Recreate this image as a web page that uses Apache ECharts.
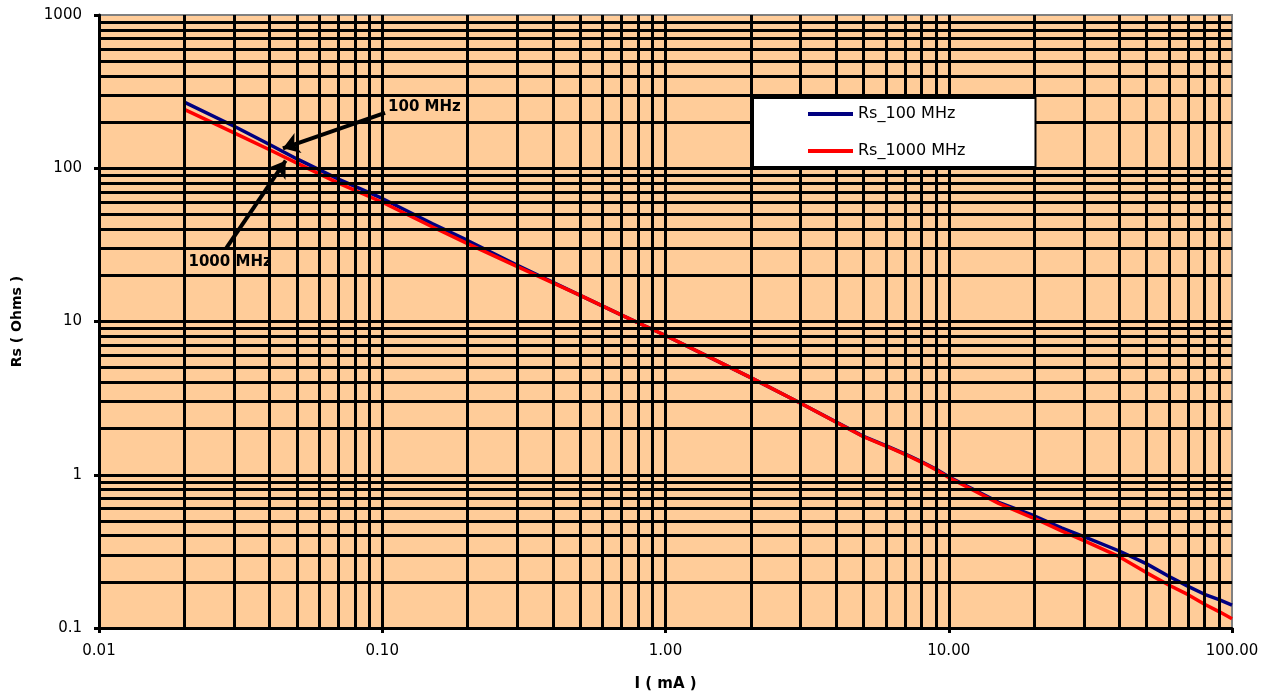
<!DOCTYPE html>
<html>
<head>
<meta charset="utf-8">
<script src="https://cdn.jsdelivr.net/npm/echarts@6/dist/echarts.min.js"></script>
<style>
html,body{margin:0;padding:0;background:#fff;}
#chart{width:1277px;height:697px;}
</style>
</head>
<body>
<div id="chart"></div>
<script>
// Current (mA)
var currents = [0.02, 0.03, 0.04, 0.05, 0.07, 0.1, 0.15, 0.2, 0.3, 0.5, 0.7, 1, 1.5, 2, 3, 5, 6, 7, 8, 9, 10, 15, 20, 25, 30, 40, 50, 60, 70, 80, 90, 100];
// Rs (Ohms) at 100 MHz
var rs100 = [270, 188, 143, 115, 85, 63.5, 43.5, 33.8, 23.3, 14.8, 11.0, 8.1, 5.6, 4.3, 2.93, 1.78, 1.55, 1.37, 1.22, 1.09, 0.97, 0.66, 0.54, 0.45, 0.395, 0.318, 0.262, 0.217, 0.187, 0.166, 0.153, 0.141];
// Rs (Ohms) at 1000 MHz
var rs1000 = [242, 170, 132, 108, 80, 60, 41.5, 32.2, 22.8, 14.8, 11.0, 8.1, 5.6, 4.3, 2.93, 1.77, 1.54, 1.36, 1.21, 1.08, 0.96, 0.65, 0.52, 0.43, 0.372, 0.292, 0.229, 0.19, 0.165, 0.143, 0.128, 0.115];
var seriesNames = ['Rs_100 MHz', 'Rs_1000 MHz'];
var xTickDecades = [0.01, 0.1, 1, 10, 100];
var yTickDecades = [0.1, 1, 10, 100, 1000];
// Annotations (data coordinates): [tailI, tailRs, headI, headRs]
var arrow100 = [0.1023, 230, 0.0446, 135];
var arrow1000 = [0.0281, 30, 0.0456, 112];
var label100 = ['100 MHz', 0.1048, 251];
var label1000 = ['1000 MHz', 0.0207, 24.4];

function minorValues(decades) {
  var out = [];
  for (var i = 0; i < decades.length - 1; i++) {
    for (var m = 1; m <= 9; m++) {
      if (i === 0 && m === 1) continue; // edge drawn by axis
      out.push(+(decades[i] * m).toPrecision(6));
    }
  }
  return out;
}
var xGrid = minorValues(xTickDecades);
var yGrid = minorValues(yTickDecades);

function pairs(xs, ys) { return xs.map(function (x, i) { return [x, ys[i]]; }); }

var gridLines = [];
xGrid.forEach(function (v) { gridLines.push({ xAxis: v }); });
yGrid.forEach(function (v) { gridLines.push({ yAxis: v }); });

var FONT = 'DejaVu Sans';
var chart = echarts.init(document.getElementById('chart'), null, { renderer: 'canvas' });
chart.setOption({
  animation: false,
  backgroundColor: '#ffffff',
  grid: {
    left: 99, right: 45, top: 15, bottom: 69,
    show: true, backgroundColor: '#FFCC99', borderColor: '#808080', borderWidth: 2
  },
  legend: {
    data: seriesNames,
    orient: 'vertical',
    left: 753, top: 98,
    zlevel: 1, z: 10,
    backgroundColor: '#ffffff',
    borderColor: '#000000', borderWidth: 2,
    padding: [8, 70, 8, 55],
    icon: 'rect',
    itemWidth: 45, itemHeight: 4, itemGap: 21,
    textStyle: { fontFamily: FONT, fontSize: 16, color: '#000' }
  },
  xAxis: {
    type: 'log', logBase: 10, min: 0.01, max: 100,
    name: 'I ( mA )', nameLocation: 'middle', nameGap: 49,
    nameTextStyle: { fontFamily: FONT, fontSize: 15, fontWeight: 'bold', color: '#000' },
    axisLine: { show: true, onZero: false, lineStyle: { color: '#000', width: 3 } },
    axisTick: { show: true, length: 5, lineStyle: { color: '#000', width: 3 } },
    splitLine: { show: false },
    minorTick: { show: false },
    axisLabel: {
      fontFamily: FONT, fontSize: 15, color: '#000', margin: 16,
      formatter: function (v) { var e = Math.round(Math.log10(v)); return Math.pow(10, e).toFixed(2); }
    }
  },
  yAxis: {
    type: 'log', logBase: 10, min: 0.1, max: 1000,
    name: 'Rs ( Ohms )', nameLocation: 'middle', nameGap: 75, nameRotate: 90,
    nameTextStyle: { fontFamily: FONT, fontSize: 14, fontWeight: 'bold', color: '#000' },
    axisLine: { show: true, onZero: false, lineStyle: { color: '#000', width: 3 } },
    axisTick: { show: true, length: 5, lineStyle: { color: '#000', width: 3 } },
    splitLine: { show: false },
    axisLabel: {
      fontFamily: FONT, fontSize: 15, color: '#000', margin: 17,
      formatter: function (v) { var e = Math.round(Math.log10(v)); return e < 0 ? '0.1' : String(Math.pow(10, e)); }
    }
  },
  series: [
    {
      name: 'grid', type: 'line', data: [], z: 1, silent: true,
      markLine: {
        silent: true, symbol: ['none', 'none'], animation: false,
        label: { show: false },
        lineStyle: { color: '#000', width: 3, type: 'solid' },
        emphasis: { disabled: true },
        data: gridLines
      }
    },
    {
      name: seriesNames[0], type: 'line', data: pairs(currents, rs100), z: 3,
      showSymbol: false, symbol: 'none', smooth: false,
      lineStyle: { color: '#000080', width: 3.5 }, itemStyle: { color: '#000080' }
    },
    {
      name: seriesNames[1], type: 'line', data: pairs(currents, rs1000), z: 4,
      showSymbol: false, symbol: 'none', smooth: false,
      lineStyle: { color: '#FF0000', width: 3.5 }, itemStyle: { color: '#FF0000' }
    },
    {
      name: 'annot', type: 'line', data: [], z: 5, silent: true,
      markLine: {
        silent: true, symbol: ['none', 'arrow'], symbolSize: 16, animation: false,
        label: { show: false },
        lineStyle: { color: '#000', width: 4, type: 'solid' },
        emphasis: { disabled: true },
        data: [
          [{ coord: [arrow100[0], arrow100[1]] }, { coord: [arrow100[2], arrow100[3]] }],
          [{ coord: [arrow1000[0], arrow1000[1]] }, { coord: [arrow1000[2], arrow1000[3]] }]
        ]
      },
      markPoint: {
        silent: true, symbol: 'circle', symbolSize: 0, animation: false,
        label: {
          show: true, position: 'right', distance: 0, formatter: '{b}',
          fontFamily: FONT, fontSize: 15, fontWeight: 'bold', color: '#000'
        },
        data: [
          { name: label100[0], coord: [label100[1], label100[2]] },
          { name: label1000[0], coord: [label1000[1], label1000[2]] }
        ]
      }
    }
  ]
});
</script>
</body>
</html>
